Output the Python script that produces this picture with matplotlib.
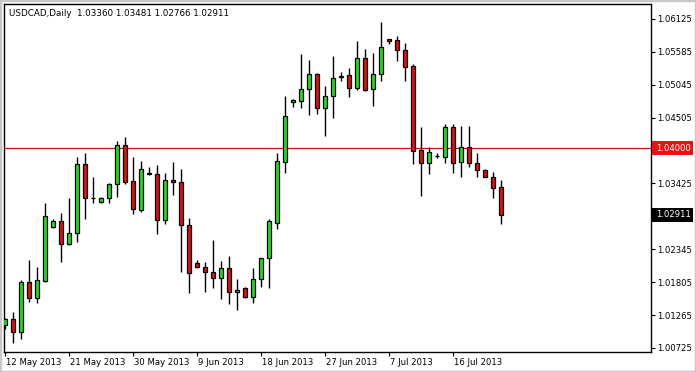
import matplotlib.pyplot as plt
import matplotlib.transforms as mtransforms
from matplotlib.patches import Rectangle
import numpy as np

# USDCAD daily bars, 12 May 2013 .. 23 Jul 2013 (broker Sunday bars included)
opens = [1.01103, 1.01201, 1.00988, 1.01808, 1.01546, 1.01825, 1.02711, 1.02810, 1.02432, 1.02613,
         1.03745, 1.03190, 1.03121, 1.03187, 1.03417, 1.04057, 1.03466, 1.02990, 1.03605, 1.03581,
         1.02826, 1.03483, 1.03450, 1.02744, 1.02120, 1.02055, 1.01972, 1.01874, 1.02038, 1.01644,
         1.01710, 1.01562, 1.01858, 1.02202, 1.02777, 1.03778, 1.04763, 1.04779, 1.04976, 1.05222,
         1.04664, 1.04861, 1.05189, 1.05206, 1.04992, 1.05485, 1.04976, 1.05222, 1.05790, 1.05780,
         1.05616, 1.05354, 1.03975, 1.03762, 1.03876, 1.03860, 1.04352, 1.03778, 1.04024, 1.03762,
         1.03647, 1.03532, 1.03360]
highs = [1.01218, 1.01316, 1.01841, 1.02169, 1.02055, 1.03105, 1.02842, 1.02941, 1.03187, 1.03860,
         1.03926, 1.03532, 1.03203, 1.03433, 1.04123, 1.04188, 1.03860, 1.03794, 1.03696, 1.03729,
         1.03597, 1.03778, 1.03663, 1.02859, 1.02169, 1.02137, 1.02498, 1.02153, 1.02235, 1.01858,
         1.01726, 1.02038, 1.02202, 1.02842, 1.03926, 1.04861, 1.04812, 1.05551, 1.05452, 1.05239,
         1.05025, 1.05518, 1.05255, 1.05321, 1.05764, 1.05633, 1.05567, 1.06076, 1.05797, 1.05846,
         1.05731, 1.05386, 1.04352, 1.04024, 1.03926, 1.04402, 1.04402, 1.04369, 1.04369, 1.03926,
         1.03663, 1.03614, 1.03481]
lows = [1.01037, 1.00807, 1.00873, 1.01480, 1.01464, 1.01808, 1.02695, 1.02137, 1.02416, 1.02465,
        1.02842, 1.03105, 1.03105, 1.03105, 1.03203, 1.03417, 1.02924, 1.02957, 1.03565, 1.02596,
        1.02760, 1.03236, 1.01972, 1.01628, 1.02038, 1.01644, 1.01710, 1.01529, 1.01447, 1.01349,
        1.01546, 1.01464, 1.01726, 1.01710, 1.02678, 1.03597, 1.04681, 1.04664, 1.04549, 1.04566,
        1.04205, 1.04500, 1.05107, 1.04845, 1.04960, 1.04943, 1.04697, 1.05107, 1.05715, 1.05436,
        1.05107, 1.03745, 1.03220, 1.03581, 1.03844, 1.03762, 1.03597, 1.03532, 1.03696, 1.03532,
        1.03525, 1.03187, 1.02766]
closes = [1.01201, 1.00988, 1.01808, 1.01546, 1.01841, 1.02892, 1.02810, 1.02432, 1.02613, 1.03745,
          1.03187, 1.03183, 1.03187, 1.03417, 1.04057, 1.03450, 1.03007, 1.03663, 1.03585, 1.02826,
          1.03483, 1.03450, 1.02744, 1.01956, 1.02055, 1.01972, 1.01874, 1.02038, 1.01644, 1.01677,
          1.01562, 1.01858, 1.02195, 1.02810, 1.03794, 1.04533, 1.04796, 1.04976, 1.05222, 1.04664,
          1.04861, 1.05157, 1.05180, 1.04992, 1.05485, 1.04960, 1.05222, 1.05665, 1.05764, 1.05616,
          1.05337, 1.03958, 1.03762, 1.03942, 1.03870, 1.04352, 1.03762, 1.04024, 1.03762, 1.03647,
          1.03532, 1.03351, 1.02911]

date_labels = ["12 May 2013", "21 May 2013", "30 May 2013", "9 Jun 2013",
               "18 Jun 2013", "27 Jun 2013", "7 Jul 2013", "16 Jul 2013"]
date_idx = [0, 8, 16, 24, 32, 40, 48, 56]
price_ticks = [1.06125, 1.05585, 1.05045, 1.04505, 1.03425, 1.02345, 1.01805, 1.01265, 1.00725]
level = 1.04000
last_close = closes[-1]

fig = plt.figure(figsize=(6.96, 3.72), dpi=100)
fig.patch.set_facecolor("white")
ax = fig.add_axes([4 / 696, 20 / 372, 647 / 696, 348 / 372])

x = np.arange(len(opens))
o = np.array(opens)
c = np.array(closes)
up = c >= o
body_lo = np.minimum(o, c)
body_h = np.maximum(np.abs(c - o), 0.00003)
cols = np.where(up, "#22dd22", "#dd1111")

ax.vlines(x, lows, highs, color="black", linewidth=1.0, zorder=2)
ax.bar(x, body_h, bottom=body_lo, width=0.62, color=cols, edgecolor="black",
       linewidth=0.9, zorder=3)

ax.axhline(level, color="#cc1111", linewidth=0.9, zorder=1)

ax.set_xlim(-0.125, 80.75)
ax.set_ylim(1.00659, 1.06371)

fs = 6.1
ax.yaxis.tick_right()
ax.set_yticks(price_ticks)
ax.set_yticklabels(["%.5f" % p for p in price_ticks])
ax.set_xticks(date_idx)
ax.set_xticklabels(date_labels, ha="left")
ax.tick_params(axis="both", direction="out", length=3, width=0.8, labelsize=fs,
               colors="black", pad=1.5)
for lab in ax.get_xticklabels():
    lab.set_transform(lab.get_transform() + mtransforms.ScaledTranslation(0.5 / 100, 0, fig.dpi_scale_trans))

for s in ax.spines.values():
    s.set_linewidth(1.0)
    s.set_color("black")

# price boxes on the right scale
tr = mtransforms.blended_transform_factory(ax.transAxes, ax.transData)
boxh = 14 * (1.06371 - 1.00659) / 348
for val, fc in [(level, "#ee1111"), (last_close, "black")]:
    ax.add_patch(Rectangle((1.0015, val - boxh / 2), 0.0635, boxh, transform=tr,
                           facecolor=fc, edgecolor="none", clip_on=False, zorder=5))
    ax.text(1.0075, val, "%.5f" % val, transform=tr, color="white", fontsize=fs,
            va="center", ha="left", zorder=6)

ax.text(0.0077, 0.974, "USDCAD,Daily  %.5f %.5f %.5f %.5f" % (opens[-1], highs[-1], lows[-1], closes[-1]),
        transform=ax.transAxes, fontsize=6.3, va="center", ha="left")

# light outer frame of the chart window
fig.add_artist(Rectangle((0, 0), 1, 1, transform=fig.transFigure, facecolor="none",
                         edgecolor="#c8c8c8", linewidth=2.5))

fig.savefig("out.png", dpi=100)
